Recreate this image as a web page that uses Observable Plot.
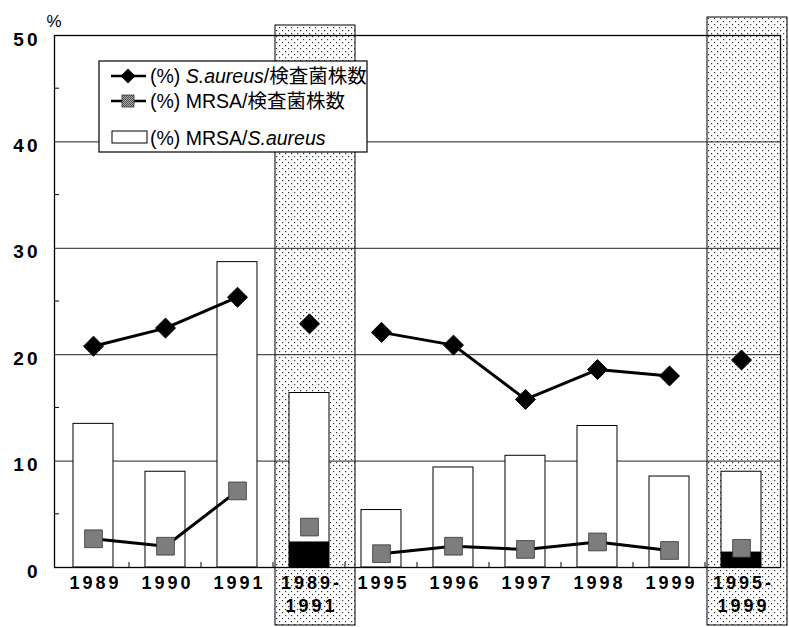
<!DOCTYPE html>
<html><head><meta charset="utf-8">
<script src="https://cdn.jsdelivr.net/npm/d3@7"></script>
<script src="https://cdn.jsdelivr.net/npm/@observablehq/plot@0.6"></script>
<style>
body{margin:0;background:#fff}
svg g[aria-label="text"]{letter-spacing:3px}
</style>
</head><body><div id="chart"></div>
<script>
const categories = ["1989","1990","1991","1989-1991","1995","1996","1997","1998","1999","1995-1999"];
const tickLabels = ["1989","1990","1991","1989-\n1991","1995","1996","1997","1998","1999","1995-\n1999"];
const period = ["1989-1991","1989-1991","1989-1991","summary","1995-1999","1995-1999","1995-1999","1995-1999","1995-1999","summary"];
const saureusPct = [20.8,22.5,25.4,22.9,22.1,20.9,15.8,18.6,18.0,19.5];
const mrsaTotalPct = [2.7,2.0,7.2,3.8,1.3,2.0,1.7,2.4,1.6,1.8];
const mrsaSaureusPct = [13.5,9.0,28.7,16.4,5.4,9.4,10.5,13.3,8.55,9.0];
const blackBarPct = [null,null,null,2.4,null,null,null,null,null,1.45];
const yTicks = [0,10,20,30,40,50];
const yMinorTicks = [5,15,25,35,45];
const legendLabels = [
  ["(%) ", "S.aureus", "/検査菌株数"],
  ["(%) MRSA/検査菌株数", "", ""],
  ["(%) MRSA/", "S.aureus", ""]
];

const data = categories.map((c, i) => ({
  cat: c, label: tickLabels[i], period: period[i],
  sa: saureusPct[i], mt: mrsaTotalPct[i], ms: mrsaSaureusPct[i], bb: blackBarPct[i]
}));

const FONT = "'Liberation Sans', Arial, 'Noto Sans CJK JP', sans-serif";

const plot = Plot.plot({
  width: 789, height: 627,
  marginTop: 35, marginBottom: 60, marginLeft: 54, marginRight: 9,
  style: {fontFamily: FONT, background: "white", overflow: "visible"},
  x: {domain: categories, paddingInner: 0.45, paddingOuter: 0.225, axis: null},
  y: {domain: [0, 50], axis: null},
  marks: [
    Plot.cell(data.filter(d => d.cat === "1989-1991"), {x: "cat", fill: "url(#dots)", stroke: "black", strokeWidth: 1,
      insetLeft: -14, insetRight: -26, insetTop: -10, insetBottom: -58}),
    Plot.cell(data.filter(d => d.cat === "1995-1999"), {x: "cat", fill: "url(#dots)", stroke: "black", strokeWidth: 1,
      insetLeft: -14, insetRight: -26, insetTop: -18, insetBottom: -58}),
    Plot.ruleY(yTicks.filter(v => v > 0), {stroke: "#222", strokeWidth: 1}),
    Plot.barY(data, {x: "cat", y: "ms", fill: "white", stroke: "black", strokeWidth: 1}),
    Plot.barY(data.filter(d => d.bb != null), {x: "cat", y: "bb", fill: "black"}),
    Plot.line(data.filter(d => d.period !== "summary"), {x: "cat", y: "sa", z: "period", stroke: "black", strokeWidth: 3}),
    Plot.line(data.filter(d => d.period !== "summary"), {x: "cat", y: "mt", z: "period", stroke: "black", strokeWidth: 3}),
    Plot.dot(data, {x: "cat", y: "mt", symbol: "square", r: 10, fill: "url(#gray)", stroke: "#333", strokeWidth: 0.8}),
    Plot.dot(data, {x: "cat", y: "sa", symbol: "diamond2", r: 9, fill: "black", stroke: "black", strokeWidth: 1}),
    Plot.frame({stroke: "black", strokeWidth: 1.3}),
    Plot.text(yTicks, {y: d => d, text: d => String(d), frameAnchor: "left", dx: -14, dy: 4, textAnchor: "end",
      fontSize: 19, fontWeight: "bold"}),
    Plot.text(data, {x: "cat", text: "label", frameAnchor: "bottom", lineAnchor: "top", dy: 6, lineHeight: 1.25,
      fontSize: 18, fontWeight: "bold", dx: 2}),
    Plot.text(["%"], {frameAnchor: "top-left", text: d => d, dx: -8, dy: -21, fontSize: 17})
  ]
});

const svg = d3.select(plot);
const defs = svg.insert("defs", ":first-child");
const dots = defs.append("pattern").attr("id", "dots").attr("width", 6).attr("height", 6).attr("patternUnits", "userSpaceOnUse");
dots.append("rect").attr("width", 6).attr("height", 6).attr("fill", "white");
dots.append("rect").attr("x", 0).attr("y", 0).attr("width", 1.2).attr("height", 1.2).attr("fill", "#333");
dots.append("rect").attr("x", 3).attr("y", 3).attr("width", 1.2).attr("height", 1.2).attr("fill", "#333");
const gray = defs.append("pattern").attr("id", "gray").attr("width", 2).attr("height", 2).attr("patternUnits", "userSpaceOnUse");
gray.append("rect").attr("width", 2).attr("height", 2).attr("fill", "#b0b0b0");
gray.append("rect").attr("width", 1).attr("height", 1).attr("fill", "#4a4a4a");
gray.append("rect").attr("x", 1).attr("y", 1).attr("width", 1).attr("height", 1).attr("fill", "#4a4a4a");

// minor ticks via the plot's own scales
const xs = plot.scale("x"), ys = plot.scale("y");
const x0 = xs.range[0];
const y0 = ys.apply(0);
const tg = svg.append("g").attr("stroke", "black").attr("stroke-width", 1);
for (const v of yMinorTicks) {
  const y = ys.apply(v);
  tg.append("line").attr("x1", x0).attr("x2", x0 + 5).attr("y1", y).attr("y2", y);
}
const step = xs.apply(categories[1]) - xs.apply(categories[0]);
const gap = step - xs.bandwidth;
for (let i = 1; i < categories.length; i++) {
  const x = xs.apply(categories[i]) - gap / 2;
  tg.append("line").attr("x1", x).attr("x2", x).attr("y1", y0).attr("y2", y0 - 5);
}

// legend
const lg = svg.append("g").attr("font-family", FONT).attr("font-size", 19.5).attr("text-anchor", "start");
lg.append("rect").attr("x", 99).attr("y", 61).attr("width", 268).attr("height", 91)
  .attr("fill", "white").attr("stroke", "black").attr("stroke-width", 1.2);
const rowsY = [76, 101, 138];
// row 1
lg.append("line").attr("x1", 111).attr("x2", 146).attr("y1", rowsY[0]).attr("y2", rowsY[0]).attr("stroke", "black").attr("stroke-width", 2.5);
lg.append("path").attr("d", d3.symbol(d3.symbolDiamond2, 140)()).attr("transform", `translate(128,${rowsY[0]})`).attr("fill", "black");
// row 2
lg.append("line").attr("x1", 111).attr("x2", 146).attr("y1", rowsY[1]).attr("y2", rowsY[1]).attr("stroke", "black").attr("stroke-width", 2.5);
lg.append("rect").attr("x", 122).attr("y", rowsY[1] - 6).attr("width", 12).attr("height", 12).attr("fill", "url(#gray)").attr("stroke", "#333").attr("stroke-width", 0.8);
// row 3
lg.append("rect").attr("x", 112).attr("y", rowsY[2] - 7).attr("width", 35).attr("height", 12).attr("fill", "white").attr("stroke", "black").attr("stroke-width", 1);
legendLabels.forEach((parts, i) => {
  const t = lg.append("text").attr("x", 150).attr("y", rowsY[i]).attr("dy", "0.35em");
  t.append("tspan").text(parts[0]);
  if (parts[1]) t.append("tspan").attr("font-style", "italic").text(parts[1]);
  if (parts[2]) t.append("tspan").text(parts[2]);
});

document.getElementById("chart").appendChild(plot);
</script>
</body></html>
